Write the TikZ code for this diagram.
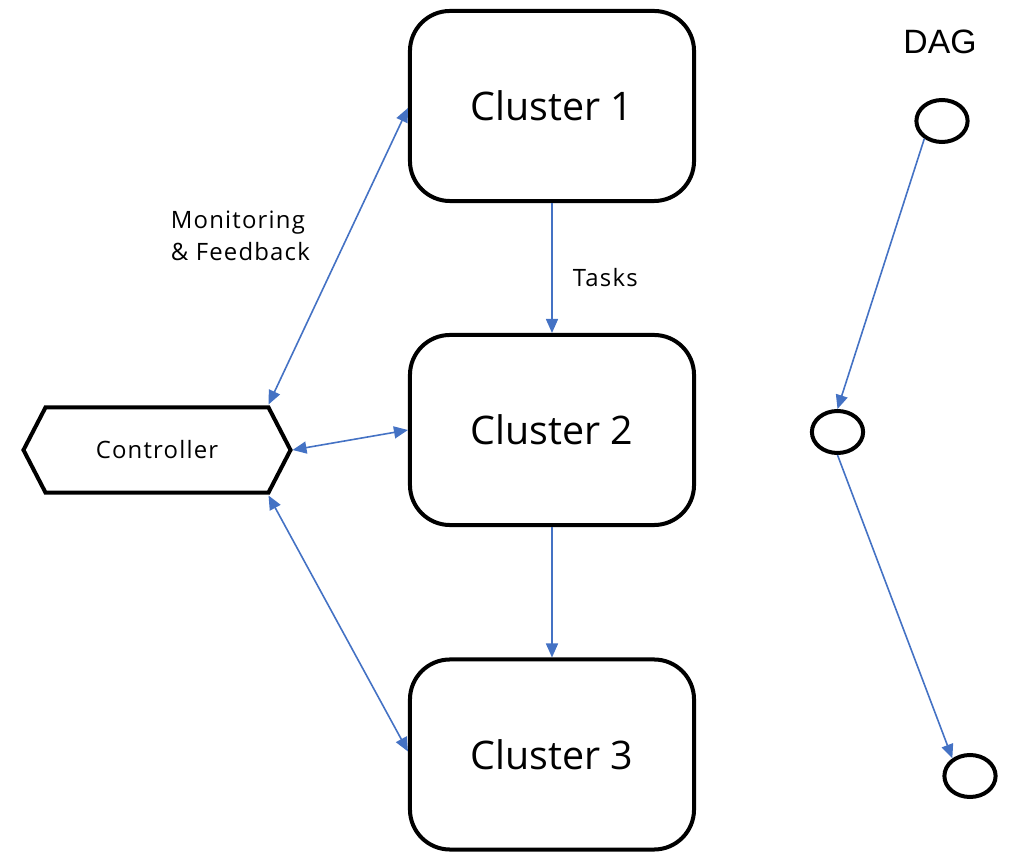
\documentclass[tikz,border=0pt]{standalone}
\usepackage{fontspec}
\setmainfont{Open Sans}
\newfontfamily\lblfont[LetterSpace=5]{Open Sans}
\newfontfamily\dagfont{Liberation Sans}
\usetikzlibrary{arrows.meta,shapes.geometric,calc}

\definecolor{linkblue}{HTML}{4472C4}

\tikzset{
    >={Triangle[length=0.35cm,width=0.3cm]},
    cluster/.style={draw, line width=0.1cm, rounded corners=1cm,
        minimum width=7.1cm, minimum height=4.75cm,
        font=\fontsize{28}{32}\selectfont},
    dagnode/.style={draw, ellipse, line width=0.1cm, inner sep=0pt,
        minimum width=1.28cm, minimum height=1.05cm},
    link/.style={draw=linkblue, line width=0.04cm},
    lbl/.style={font=\lblfont\fontsize{17}{23}\selectfont},
}

\begin{document}
\begin{tikzpicture}[x=0.025cm, y=-0.025cm]
    \useasboundingbox (0, 0) rectangle (1009, 852);

    % clusters
    \node[cluster] (c1) at (552, 106) {Cluster 1};
    \node[cluster] (c2) at (552, 430) {Cluster 2};
    \node[cluster] (c3) at (552, 754.5) {Cluster 3};

    % controller
    \node[lbl, inner sep=0pt, outer sep=0pt, minimum width=5.575cm,
        minimum height=2.125cm] (ctrl) at (157, 450) {Controller};
    \coordinate (ctrl e) at ($(ctrl.east) + (22, 0)$);
    \coordinate (ctrl w) at ($(ctrl.west) + (-22, 0)$);
    \draw[line width=0.1cm] (ctrl.north west) -- (ctrl.north east) -- (ctrl e)
        -- (ctrl.south east) -- (ctrl.south west) -- (ctrl w) -- cycle;

    % monitoring
    \draw[link, <->] ($(ctrl.north east) + (0, -3)$) -- ($(c1.west) + (0, 2)$);
    \draw[link, <->] ($(ctrl e) + (2, 0)$) -- (c2.west);
    \draw[link, <->] ($(ctrl.south east) + (0, 3)$) -- ($(c3.west) + (0, -3)$);
    \node[lbl, align=left, anchor=west] (mon) at (166, 236) {Monitoring\\\& Feedback};

    % tasks
    \draw[link, ->] (c1.south) -- (c2.north) node[pos=0.57, right=11pt, lbl] (tasks) {Tasks};
    \draw[link, ->] (c2.south) -- (c3.north);

    % DAG
    \node[font=\dagfont\fontsize{24}{28}\selectfont] (dag) at (940, 42) {DAG};
    \node[dagnode] (d1) at (942, 121) {};
    \node[dagnode] (d2) at (837.5, 432) {};
    \node[dagnode] (d3) at (970, 776) {};
    \draw[link, ->] (d1.225) -- (d2.north);
    \draw[link, ->] (d2.south) -- (d3.135);
\end{tikzpicture}
\end{document}
